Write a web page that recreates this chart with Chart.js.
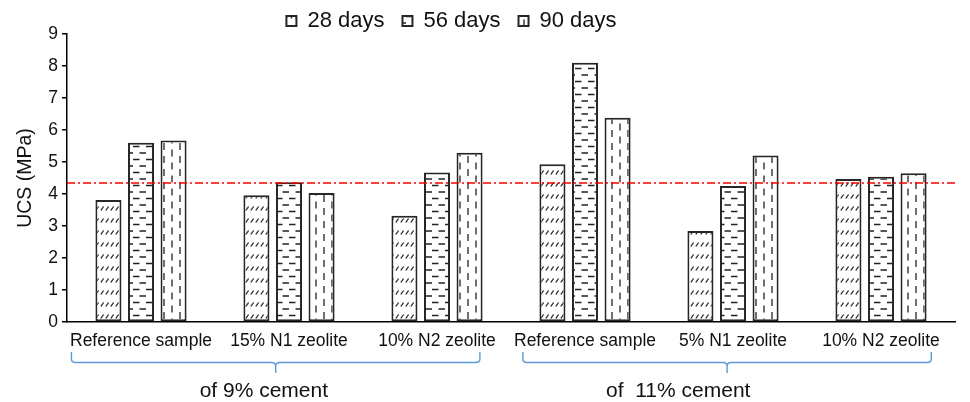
<!DOCTYPE html>
<html>
<head>
<meta charset="utf-8">
<script src="https://cdn.jsdelivr.net/npm/chart.js@4/dist/chart.umd.min.js"></script>
<style>
  html, body { margin: 0; padding: 0; background: #fff; }
  #wrap { width: 970px; height: 402px; position: relative; }
</style>
</head>
<body>
<div id="wrap"><canvas id="c"></canvas></div>
<script>
// Unconfined compressive strength of the stabilised mixes
const categories = ['Reference sample', '15% N1 zeolite', '10% N2 zeolite',
                    'Reference sample', '5% N1 zeolite', '10% N2 zeolite'];
const seriesNames = ['28 days', '56 days', '90 days'];
const ucs28 = [3.81, 3.96, 3.32, 4.93, 2.84, 4.47];
const ucs56 = [5.60, 4.37, 4.67, 8.10, 4.25, 4.54];
const ucs90 = [5.67, 4.03, 5.29, 6.38, 5.20, 4.65];
const yTicks = [0, 1, 2, 3, 4, 5, 6, 7, 8, 9];
const limitValue = 4.33;
const groupLabels = ['of 9% cement', 'of  11% cement'];
// brace spans and caption centres, in category units
const groupSpans = [[-0.47, 2.29], [2.58, 5.34]];
const groupCaptionAt = [0.83, 3.63];

const FONT = '"Liberation Sans", Arial, Helvetica, sans-serif';
const INK = '#222';

// Hatch fills for the three curing ages
function makePattern(kind) {
  const c = document.createElement('canvas');
  let w, h;
  if (kind === 'diag') { w = 5; h = 12; }
  else if (kind === 'horiz') { w = 13; h = 13; }
  else { w = 16; h = 13; }
  c.width = w; c.height = h;
  const g = c.getContext('2d');
  g.fillStyle = '#fff';
  g.fillRect(0, 0, w, h);
  g.strokeStyle = INK;
  g.lineWidth = 1.3;
  g.lineCap = 'butt';
  g.beginPath();
  if (kind === 'diag') {
    g.moveTo(0.8, 6.5); g.lineTo(3.6, 2.5);
  } else if (kind === 'horiz') {
    g.moveTo(3, 3.5); g.lineTo(9.5, 3.5);
    g.moveTo(9.5, 10); g.lineTo(13, 10);
    g.moveTo(0, 10); g.lineTo(3, 10);
  } else {
    g.moveTo(4, 0); g.lineTo(4, 7);
    g.moveTo(12, 6.5); g.lineTo(12, 13);
    g.moveTo(12, 0); g.lineTo(12, 0.5);
  }
  g.stroke();
  return g.createPattern(c, 'repeat');
}

const fills = [makePattern('diag'), makePattern('horiz'), makePattern('vert')];
const seriesValues = [ucs28, ucs56, ucs90];

// Dash-dot reference level, braces and group captions below the axis
const overlays = {
  id: 'overlays',
  afterLayout(chart) {
    const lg = chart.legend;
    if (lg) { lg.left -= 26; lg.right -= 26; lg.top -= 8; }
  },
  afterDatasetsDraw(chart) {
    const { ctx, chartArea } = chart;
    const y = chart.scales.y.getPixelForValue(limitValue);
    ctx.save();
    ctx.strokeStyle = 'rgb(255, 0, 0)';
    ctx.lineWidth = 1.6;
    ctx.setLineDash([8, 3, 2, 3]);
    ctx.beginPath();
    ctx.moveTo(chartArea.left, Math.round(y));
    ctx.lineTo(chartArea.right, Math.round(y));
    ctx.stroke();
    ctx.restore();
  },
  afterDraw(chart) {
    const { ctx } = chart;
    const x = chart.scales.x;
    const yTop = 352, yMid = 362.5, yTip = 373, r = 4;
    ctx.save();
    ctx.strokeStyle = '#5b9bd5';
    ctx.lineWidth = 1.4;
    groupSpans.forEach(([a, b]) => {
      const x1 = x.getPixelForValue(a), x2 = x.getPixelForValue(b);
      const xm = (x1 + x2) / 2;
      ctx.beginPath();
      ctx.moveTo(x1, yTop);
      ctx.lineTo(x1, yMid - r);
      ctx.quadraticCurveTo(x1, yMid, x1 + r, yMid);
      ctx.lineTo(xm - r, yMid);
      ctx.quadraticCurveTo(xm, yMid, xm, yMid + r);
      ctx.lineTo(xm, yTip);
      ctx.moveTo(xm, yMid + r);
      ctx.quadraticCurveTo(xm, yMid, xm + r, yMid);
      ctx.lineTo(x2 - r, yMid);
      ctx.quadraticCurveTo(x2, yMid, x2, yMid - r);
      ctx.lineTo(x2, yTop);
      ctx.stroke();
    });
    ctx.fillStyle = '#111';
    ctx.font = '21px ' + FONT;
    ctx.textAlign = 'center';
    ctx.textBaseline = 'alphabetic';
    groupLabels.forEach((t, i) => {
      ctx.fillText(t, x.getPixelForValue(groupCaptionAt[i]), 397);
    });
    ctx.restore();
  }
};

new Chart(document.getElementById('c'), {
  type: 'bar',
  data: {
    labels: categories,
    datasets: seriesNames.map((name, i) => ({
      label: name,
      data: seriesValues[i],
      backgroundColor: fills[i],
      borderColor: '#262626',
      borderWidth: 2,
      borderSkipped: false,
      categoryPercentage: 0.66,
      barPercentage: 0.8
    }))
  },
  options: {
    responsive: true,
    maintainAspectRatio: false,
    animation: false,
    devicePixelRatio: 1,
    layout: { padding: { left: 0, right: 15, top: 0, bottom: 0 } },
    plugins: {
      legend: {
        position: 'top',
        maxHeight: 34,
        labels: {
          font: { family: FONT, size: 22 },
          color: '#111',
          boxWidth: 10,
          boxHeight: 10,
          padding: 18
        }
      },
      tooltip: { enabled: false }
    },
    scales: {
      x: {
        grid: { display: false, drawTicks: false },
        border: { display: true, color: '#000', width: 1.5 },
        ticks: {
          font: { family: FONT, size: 17.5 },
          color: '#111',
          padding: 9,
          maxRotation: 0,
          minRotation: 0,
          autoSkip: false
        },
        afterFit(s) { s.height = 80; }
      },
      y: {
        min: 0,
        max: 9,
        afterBuildTicks(s) { s.ticks = yTicks.map(v => ({ value: v })); },
        grid: { drawOnChartArea: false, drawTicks: true, tickLength: 5, color: '#000', lineWidth: 1.5 },
        border: { display: true, color: '#000', width: 1.5 },
        ticks: {
          font: { family: FONT, size: 17.5 },
          color: '#111',
          padding: 4
        },
        title: {
          display: true,
          text: 'UCS (MPa)',
          font: { family: FONT, size: 19.5 },
          color: '#111',
          padding: { top: 14, bottom: 0 }
        },
        afterFit(s) { s.width = 67; }
      }
    }
  },
  plugins: [overlays]
});
</script>
</body>
</html>
